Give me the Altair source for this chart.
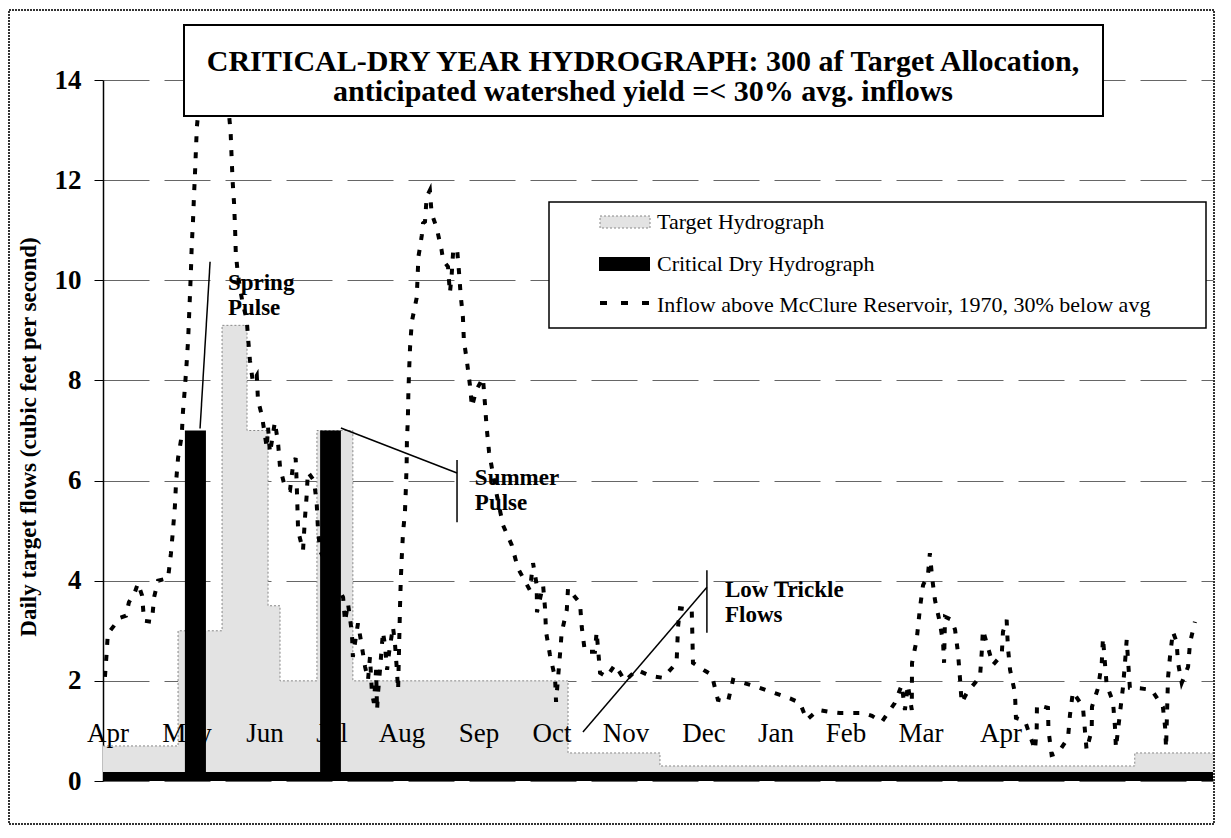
import altair as alt
import pandas as pd

# ---------------- data ----------------
# Inflow above McClure Reservoir (day index from Apr 1, cfs)
inflow_day = [0.8, 1.5, 2.0, 2.9, 7.0, 9.4, 10.6, 13.1, 14.3, 16.0, 16.8, 20.0, 20.9, 22.5, 26.6, 27.8,
              28.6, 29.4, 29.9, 30.7, 32.2, 32.7, 33.5, 34.2, 34.8, 35.2, 35.6, 36.0, 36.3, 36.8, 37.2,
              37.6, 38.0, 38.4, 41.3, 45.4, 49.5, 52.2, 52.6, 53.0, 53.6, 54.0, 54.3, 55.2, 56.9, 58.8,
              59.3, 60.1, 61.3, 62.9, 63.4, 65.0, 67.0, 67.5, 68.3, 70.3, 71.6, 72.4, 74.4, 76.5, 77.7,
              78.8, 79.2, 79.5, 79.8, 81.8, 82.6, 83.3, 83.8, 86.3, 87.4, 87.9, 88.8, 92.8, 98.2, 99.0,
              100.2, 101.8, 102.2, 104.3, 105.9, 107.2, 108.4, 109.2, 110.0, 110.8, 111.7, 112.1, 112.5,
              113.3, 114.5, 115.3, 116.2, 117.0, 118.6, 119.4, 120.2, 120.7, 121.5, 121.8, 122.2, 122.7,
              123.5, 123.9, 124.2, 124.3, 124.7, 124.9, 125.2, 125.6, 126.3, 128.3, 128.7, 129.0, 129.7,
              130.4, 130.9, 131.7, 132.4, 133.7, 134.4, 136.5, 138.5, 139.1, 141.1, 141.9, 142.6, 143.2,
              144.8, 145.6, 146.3, 147.2, 147.6, 148.8, 150.1, 150.9, 152.6, 155.4, 156.2, 156.9, 157.9,
              160.7, 163.6, 167.2, 169.7, 174.6, 175.9, 177.4, 177.5, 180.0, 180.8, 181.2, 182.8, 184.9,
              185.3, 186.9, 187.6, 189.7, 190.2, 195.1, 195.8, 197.1, 201.2, 201.9, 203.3, 206.0, 209.4,
              213.5, 218.3, 223.7, 229.1, 234.6, 235.2, 236.0, 240.8, 241.1, 241.3, 246.2, 249.0, 251.5,
              255.6, 257.7, 262.6, 267.4, 272.0, 276.9, 281.0, 285.1, 287.8, 292.4, 297.3, 301.4, 306.3,
              310.8, 314.5, 318.5, 323.9, 326.7, 328.0, 329.2, 330.8, 330.9, 332.8, 334.2, 335.4, 337.4,
              338.2, 339.1, 340.3, 342.3, 343.6, 344.0, 344.4, 347.1, 348.5, 349.7, 350.5, 351.2, 353.3,
              355.3, 358.7, 359.4, 359.9, 361.4, 364.0, 367.6, 368.1, 369.6, 370.1, 371.0, 373.0, 373.4,
              377.1, 381.2, 381.9, 382.0, 386.5, 386.7, 388.0, 390.6, 394.7, 395.5, 396.7, 400.8, 401.6,
              402.3, 404.4, 404.5, 407.0, 408.5, 409.0, 410.5, 413.1, 413.9, 414.3, 417.2, 418.0, 418.7,
              420.0, 424.1, 428.9, 433.5, 434.4, 434.8, 435.6, 436.4, 437.6, 439.1, 439.7, 441.2, 443.8,
              444.6, 446.6]
inflow_cfs = [2.08, 2.56, 2.96, 3.0, 3.26, 3.3, 3.57, 3.78, 3.95, 3.7, 3.2, 3.18, 3.67, 4.0, 4.05, 4.55,
              5.0, 5.48, 5.98, 6.45, 6.9, 7.37, 7.85, 8.34, 8.8, 9.27, 9.74, 10.24, 10.7, 11.17, 11.67,
              12.1, 12.6, 13.06, 14.6, 15.2, 14.4, 12.96, 12.46, 12.0, 11.54, 11.07, 10.56, 10.1, 9.6, 9.2,
              8.87, 8.4, 7.97, 8.1, 7.6, 7.3, 6.65, 7.07, 6.55, 7.17, 6.75, 6.27, 5.87, 5.81, 6.3,
              6.45, 5.98, 5.5, 5.0, 4.6, 5.25, 5.7, 6.17, 6.0, 5.55, 5.05, 4.6, 4.2, 3.67, 3.18,
              3.55, 2.96, 2.48, 3.15, 2.68, 2.28, 2.02, 2.48, 1.76, 1.56, 2.22, 1.42, 1.76,
              2.22, 2.98, 2.72, 2.22, 2.56, 3.08, 2.76, 2.22, 1.82, 3.52, 4.01, 4.47, 4.95,
              5.37, 5.87, 6.35, 6.77, 7.25, 7.75, 8.2, 8.67, 9.17, 9.65, 10.1, 10.47, 10.67,
              10.9, 11.14, 11.17, 11.67, 11.8, 11.34, 11.04, 10.6, 10.4, 10.27, 9.75, 10.1, 10.56,
              10.64, 10.17, 9.7, 9.27, 8.8, 8.4, 7.9, 7.47, 7.8, 8.05, 7.55, 7.07, 6.57,
              5.8, 5.11, 4.71, 4.25, 3.81, 4.35, 3.91, 3.37, 3.91, 3.45, 2.98, 2.52, 2.06,
              1.58, 2.52, 2.96, 3.42, 3.85, 3.55, 3.08, 2.58, 2.58, 2.98, 2.16, 2.08, 2.32,
              2.0, 2.22, 2.1, 2.06, 2.36, 3.08, 3.45, 3.42, 2.82, 2.36, 2.2, 2.12, 1.62,
              1.58, 2.02, 1.95, 1.88, 1.8, 1.72, 1.65, 1.56, 1.22, 1.42, 1.38, 1.36, 1.36,
              1.36, 1.3, 1.18, 1.56, 1.92, 1.42, 1.92, 1.42, 2.36, 2.82, 3.48, 3.91, 4.11,
              4.55, 4.07, 3.61, 3.16, 2.76, 2.36, 3.28, 3.22, 3.02, 2.56, 2.06, 1.56, 1.76,
              1.88, 2.08, 2.56, 3.02, 2.76, 2.32, 2.52, 2.98, 3.22, 2.68, 2.22, 1.76, 1.26,
              1.2, 0.62, 1.06, 1.52, 1.46, 1.02, 0.52, 0.56, 0.86, 1.32, 1.78, 1.48, 1.02,
              0.62, 1.02, 1.48, 1.86, 2.36, 2.86, 1.92, 1.58, 1.08, 0.66, 1.88, 2.36, 2.82,
              1.86, 1.85, 1.82, 1.48, 1.08, 0.66, 2.06, 2.48, 2.98, 2.78, 2.36, 1.96, 2.28,
              2.76, 3.18]

# Target hydrograph (step starts)
target_day = [0, 30.7, 48.7, 58.9, 67.5, 72.4, 87.5, 102.2, 190.2, 227.8, 422.0, 454.0]
target_cfs = [0.7, 3.0, 9.1, 7.0, 3.5, 2.0, 7.0, 2.0, 0.56, 0.3, 0.56, 0.56]

# Critical dry hydrograph (step starts)
crit_day = [0, 33.5, 42.1, 88.8, 97.3, 454.0]
crit_cfs = [0.18, 7.0, 0.18, 7.0, 0.18, 0.18]

month_day = [2.0, 34.4, 66.3, 93.7, 122.3, 153.8, 183.6, 213.9, 245.8, 275.3, 303.9, 334.6, 367.3]
month_name = ["Apr", "May", "Jun", "Jul", "Aug", "Sep", "Oct", "Nov", "Dec", "Jan", "Feb", "Mar", "Apr"]
y_ticks = [0, 2, 4, 6, 8, 10, 12, 14]

# annotations
note_text = ["Spring\nPulse", "Summer\nPulse", "Low Trickle\nFlows"]
note_day = [51.1, 152.1, 254.4]
note_cfs = [9.81, 5.91, 3.67]
lead_day = [43.8, 97.3, 144.8, 196.3, 247.0]
lead_cfs = [10.37, 7.05, 6.41, 0.98, 4.21]
lead_day2 = [39.7, 144.8, 144.8, 247.0, 247.0]
lead_cfs2 = [7.04, 6.15, 5.17, 3.87, 2.96]

title_lines = ["CRITICAL-DRY YEAR HYDROGRAPH: 300 af Target Allocation,",
               "anticipated watershed yield =< 30% avg. inflows"]
legend_labels = ["Target Hydrograph", "Critical Dry Hydrograph",
                 "Inflow above McClure Reservoir, 1970, 30% below avg"]
y_title = "Daily target flows (cubic feet per second)"

# ---------------- chart ----------------
FONT = "Liberation Serif"
W, H = 1110, 701
GREY = "#e3e3e3"

inflow = pd.DataFrame({"day": inflow_day, "cfs": inflow_cfs})
target = pd.DataFrame({"day": target_day, "cfs": target_cfs})
crit = pd.DataFrame({"day": crit_day, "cfs": crit_cfs})
months = pd.DataFrame({"day": month_day, "name": month_name})
notes = pd.DataFrame({"day": note_day, "cfs": note_cfs, "txt": note_text})
leads = pd.DataFrame({"day": lead_day, "cfs": lead_cfs, "day2": lead_day2, "cfs2": lead_cfs2})
one = pd.DataFrame({"a": [0]})

xs = alt.Scale(domain=[0, 454], nice=False, zero=False)
ys = alt.Scale(domain=[0, 14], nice=False)
X = alt.X("day:Q", scale=xs, axis=None)
Y = alt.Y("cfs:Q", scale=ys, axis=alt.Axis(
    values=y_ticks, title=None, grid=True, gridDash=[46, 15], gridColor="#666", gridWidth=1,
    domainColor="black", domainWidth=1.5, tickColor="black", tickSize=9, tickWidth=1,
    labelFont=FONT, labelFontSize=27, labelFontWeight="bold", labelColor="black", labelPadding=13))

target_area = alt.Chart(target).mark_area(interpolate="step-after", color=GREY).encode(x=X, y=Y)
target_edge = alt.Chart(target).mark_line(interpolate="step-after", color="#888", strokeWidth=1,
                                          strokeDash=[2, 2]).encode(x=X, y=Y)
crit_area = alt.Chart(crit).mark_area(interpolate="step-after", color="black").encode(x=X, y=Y)
inflow_line = alt.Chart(inflow).mark_line(color="black", strokeWidth=4, strokeDash=[6, 10],
                                          strokeCap="butt", clip=True).encode(x=X, y=Y)

month_text = alt.Chart(months).mark_text(font=FONT, fontSize=27, align="center",
                                         baseline="alphabetic", color="black").encode(
    x=X, y=alt.datum(0.78), text="name:N")

note_marks = alt.Chart(notes).mark_text(font=FONT, fontSize=23, fontWeight="bold", align="left",
                                        baseline="alphabetic", lineBreak="\n", lineHeight=25,
                                        color="black").encode(x=X, y=Y, text="txt:N")
lead_marks = alt.Chart(leads).mark_rule(color="black", strokeWidth=1.5).encode(
    x=X, y=Y, x2="day2:Q", y2="cfs2:Q")


def rect(x, x2, y, y2, **kw):
    return alt.Chart(one).mark_rect(**kw).encode(
        x=alt.value(x), x2=alt.value(x2), y=alt.value(y), y2=alt.value(y2))


def label(txt, x, y, **kw):
    return alt.Chart(one).mark_text(font=FONT, color="black", **kw).encode(
        x=alt.value(x), y=alt.value(y), text=alt.value(txt))


frame = rect(-94, 1111, -70, 744, fill=None, stroke="#333", strokeWidth=2, strokeDash=[2, 1])

title_box = rect(81, 1000, -55, 36, fill="white", stroke="black", strokeWidth=2)
title1 = label(title_lines[0], 540, -9, fontSize=30, fontWeight="bold", align="center",
               baseline="alphabetic")
title2 = label(title_lines[1], 540, 21, fontSize=30, fontWeight="bold", align="center",
               baseline="alphabetic")

legend_box = rect(446, 1103, 122, 248, fill="white", stroke="black", strokeWidth=1.5)
sw1 = rect(497, 547, 136, 148, fill=GREY, stroke="#888", strokeWidth=1, strokeDash=[2, 2])
sw2 = rect(496, 547, 177, 191, fill="black")
sw3 = alt.Chart(one).mark_rule(color="black", strokeWidth=4, strokeDash=[7, 14]).encode(
    x=alt.value(497), x2=alt.value(552), y=alt.value(223))
lt1 = label(legend_labels[0], 554, 142, fontSize=22, align="left", baseline="middle")
lt2 = label(legend_labels[1], 554, 184, fontSize=22, align="left", baseline="middle")
lt3 = label(legend_labels[2], 554, 225, fontSize=22, align="left", baseline="middle")

ytitle = label(y_title, -74, 357, fontSize=23, fontWeight="bold", align="center",
               baseline="middle", angle=270)

chart = alt.layer(
    target_area, target_edge, crit_area, inflow_line, month_text, lead_marks, note_marks,
    title_box, title1, title2, legend_box, sw1, sw2, sw3, lt1, lt2, lt3, ytitle, frame
).properties(
    width=W, height=H,
    autosize=alt.AutoSizeParams(type="none"),
    padding={"left": 95, "top": 72, "right": 8, "bottom": 45},
    background="white",
).configure_view(stroke=None)

chart.save("out.html", embed_options={"renderer": "svg", "actions": False})
